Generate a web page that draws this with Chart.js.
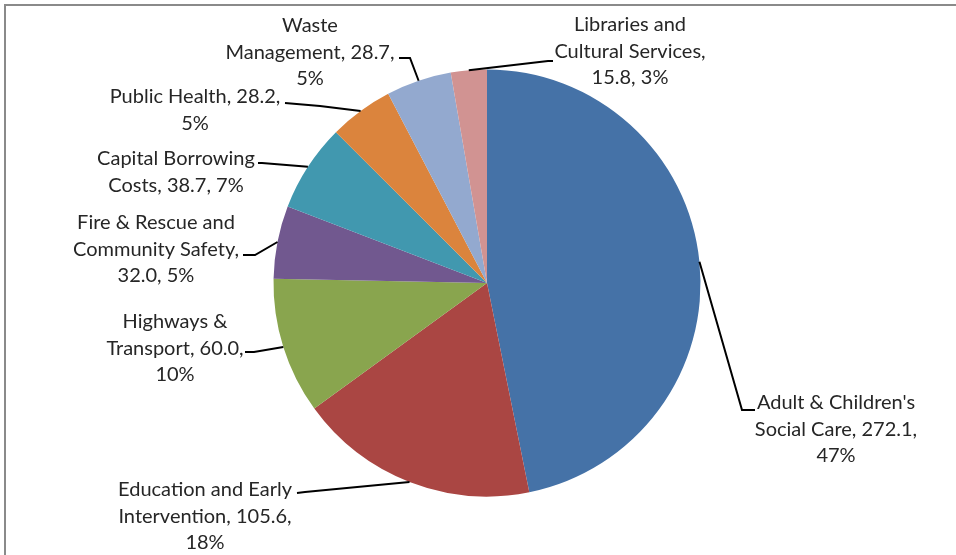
<!DOCTYPE html>
<html>
<head>
<meta charset="utf-8">
<script src="https://cdn.jsdelivr.net/npm/chart.js@4"></script>
<style>
  html, body { margin: 0; padding: 0; background: #fff; }
  #wrap { position: relative; width: 956px; height: 555px; }
</style>
</head>
<body>
<div id="wrap"><canvas id="pieChart" width="956" height="555"></canvas></div>
<script>
const categories = [
  "Adult & Children's Social Care",
  "Education and Early Intervention",
  "Highways & Transport",
  "Fire & Rescue and Community Safety",
  "Capital Borrowing Costs",
  "Public Health",
  "Waste Management",
  "Libraries and Cultural Services"
];
const values = [272.1, 105.6, 60.0, 32.0, 38.7, 28.2, 28.7, 15.8];
const pctLabels = [47, 18, 10, 5, 7, 5, 5, 3];
const colors = ["#4572A7", "#AA4643", "#89A54E", "#71588F", "#4198AF", "#DB843D", "#93A9CF", "#D19392"];

// label placement: centre x, first line y, words per line, leader elbow and end
const labelLayout = [
  { x: 836, y: 403, words: [3, 3, 1], elbow: [742, 410], end: [755, 410] },
  { x: 205, y: 490, words: [3, 2, 1], elbow: [305, 492], end: [297, 493] },
  { x: 175, y: 322, words: [2, 2, 1], elbow: [254, 352], end: [245, 352] },
  { x: 156, y: 223, words: [4, 2, 2], elbow: [255, 255], end: [243, 255] },
  { x: 176, y: 159, words: [2, 3], elbow: [262, 163], end: [258, 163] },
  { x: 195, y: 97, words: [3, 1], elbow: [320, 106], end: [285, 103] },
  { x: 310, y: 26, words: [1, 2, 1], elbow: [410, 58], end: [399, 58] },
  { x: 630, y: 25, words: [2, 2, 2], elbow: [548, 61], end: [553, 61] }
];
const lineHeight = 26.5;

function labelLines(i) {
  const words = `${categories[i]}, ${values[i].toFixed(1)}, ${pctLabels[i]}%`.split(" ");
  const out = [];
  let k = 0;
  labelLayout[i].words.forEach(n => {
    out.push(words.slice(k, k + n).join(" "));
    k += n;
  });
  return out;
}

const frameAndLabels = {
  id: "frameAndLabels",
  beforeDraw(chart) {
    const ctx = chart.ctx;
    ctx.save();
    ctx.strokeStyle = "#8a8a8a";
    ctx.lineWidth = 2;
    ctx.beginPath();
    ctx.moveTo(5, 555);
    ctx.lineTo(5, 5);
    ctx.lineTo(956, 5);
    ctx.stroke();
    ctx.restore();
  },
  afterDatasetsDraw(chart) {
    const ctx = chart.ctx;
    const arcs = chart.getDatasetMeta(0).data;
    ctx.save();
    arcs.forEach((arc, i) => {
      const p = arc.getProps(["x", "y", "startAngle", "endAngle", "outerRadius"], true);
      const mid = (p.startAngle + p.endAngle) / 2;
      const sx = p.x + Math.cos(mid) * p.outerRadius;
      const sy = p.y + Math.sin(mid) * p.outerRadius;
      const lay = labelLayout[i];
      ctx.strokeStyle = "#000";
      ctx.lineWidth = 2;
      ctx.beginPath();
      ctx.moveTo(sx, sy);
      ctx.lineTo(lay.elbow[0], lay.elbow[1]);
      ctx.lineTo(lay.end[0], lay.end[1]);
      ctx.stroke();

      ctx.fillStyle = "#262626";
      ctx.font = "20px Lato";
      ctx.textAlign = "center";
      ctx.textBaseline = "middle";
      labelLines(i).forEach((t, j) => ctx.fillText(t, lay.x, lay.y + j * lineHeight));
    });
    ctx.restore();
  }
};

new Chart(document.getElementById("pieChart"), {
  type: "pie",
  data: {
    labels: categories,
    datasets: [{ data: values, backgroundColor: colors, borderWidth: 0, hoverOffset: 0 }]
  },
  options: {
    responsive: false,
    animation: false,
    events: [],
    layout: { padding: { left: 273.5, right: 255.5, top: 69.5, bottom: 58.5 } },
    plugins: { legend: { display: false }, tooltip: { enabled: false } }
  },
  plugins: [frameAndLabels]
});
</script>
</body>
</html>
